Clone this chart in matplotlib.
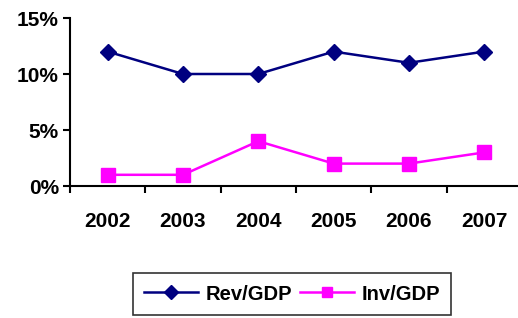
import matplotlib.pyplot as plt
from matplotlib.ticker import PercentFormatter

years = ["2002", "2003", "2004", "2005", "2006", "2007"]
rev_gdp = [12, 10, 10, 12, 11, 12]
inv_gdp = [1, 1, 4, 2, 2, 3]

plt.rcParams["font.family"] = ["Liberation Sans", "DejaVu Sans"]
plt.rcParams["font.weight"] = "bold"

fig = plt.figure(figsize=(5.18, 3.18), dpi=100)
ax = fig.add_axes([70 / 518, 1 - 186 / 318, 452 / 518, 168 / 318])

x = range(len(years))
ax.plot(x, rev_gdp, color="#000080", lw=1.8, marker="D", ms=8.5, label="Rev/GDP")
ax.plot(x, inv_gdp, color="#FF00FF", lw=1.8, marker="s", ms=9.5, label="Inv/GDP")

ax.set_xlim(-0.5, 5.5)
ax.set_ylim(0, 15)
ax.set_yticks([0, 5, 10, 15])
ax.yaxis.set_major_formatter(PercentFormatter(decimals=0))
ax.set_xticks(x)
ax.set_xticklabels(years)
ax.set_xticks([i + 0.5 for i in range(-1, 6)], minor=True)
ax.tick_params(axis="x", which="major", length=0, pad=19, labelsize=15)
ax.tick_params(axis="x", which="minor", length=5, width=1.5, direction="out")
ax.tick_params(axis="y", length=5, width=1.5, labelsize=15, pad=3)

for s in ["top", "right"]:
    ax.spines[s].set_visible(False)
for s in ["left", "bottom"]:
    ax.spines[s].set_linewidth(1.5)

leg = fig.legend(loc="center", bbox_to_anchor=(292 / 518, 1 - 294 / 318), ncol=2,
                 frameon=True, fancybox=False, edgecolor="black", fontsize=14.5,
                 handlelength=2.7, columnspacing=0.4, handletextpad=0.35,
                 borderpad=0.55, markerscale=0.8)
leg.get_frame().set_linewidth(1.2)

fig.savefig("out.png", dpi=100)
